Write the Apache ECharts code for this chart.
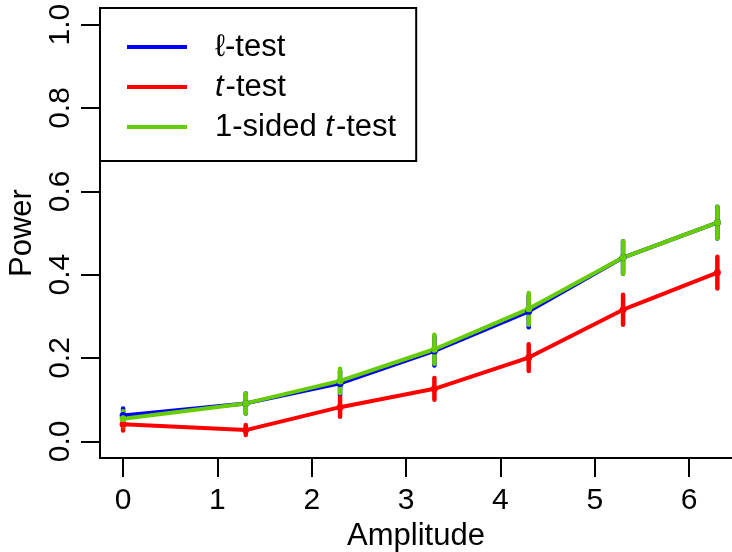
<!DOCTYPE html>
<html>
<head>
<meta charset="utf-8">
<script src="https://cdn.jsdelivr.net/npm/echarts@6/dist/echarts.min.js"></script>
<style>
  html, body { margin: 0; padding: 0; background: #fff; }
  #chart { width: 732px; height: 552px; }
</style>
</head>
<body>
<div id="chart"></div>
<script>
// amplitudes at which power was estimated
const amplitudes = [0, 1.3, 2.3, 3.3, 4.3, 5.3, 6.3];

// ℓ-test
const ellPower = [0.062, 0.091, 0.139, 0.217, 0.312, 0.441, 0.525];
const ellErr   = [0.017, 0.024, 0.029, 0.035, 0.038, 0.039, 0.038];
// t-test
const tPower = [0.041, 0.027, 0.082, 0.126, 0.201, 0.316, 0.405];
const tErr   = [0.015, 0.012, 0.023, 0.026, 0.032, 0.036, 0.038];
// 1-sided t-test
const oneSidedPower = [0.054, 0.091, 0.145, 0.221, 0.318, 0.441, 0.525];
const oneSidedErr   = [0.018, 0.024, 0.029, 0.035, 0.038, 0.039, 0.038];

const xTicks = [0, 1, 2, 3, 4, 5, 6];
const yTicks = [0, 0.2, 0.4, 0.6, 0.8, 1.0];

const names = ['ℓ-test', 't-test', '1-sided t-test'];
const colors = ['#0000ff', '#ff0000', '#66cd00'];

const font = 'Liberation Sans, Arial, sans-serif';

function lineSeries(name, color, vals) {
    return {
        name: name,
        type: 'line',
        data: amplitudes.map((x, i) => [x, vals[i]]),
        symbol: 'circle',
        symbolSize: 7,
        itemStyle: { color: color },
        lineStyle: { color: color, width: 4 },
        z: 3
    };
}

function errSeries(color, vals, errs) {
    return {
        type: 'custom',
        data: amplitudes.map((x, i) => [x, vals[i] - errs[i], vals[i] + errs[i]]),
        encode: { x: 0, y: [1, 2] },
        renderItem(params, api) {
            const lo = api.coord([api.value(0), api.value(1)]);
            const hi = api.coord([api.value(0), api.value(2)]);
            return {
                type: 'line',
                shape: { x1: lo[0], y1: lo[1], x2: hi[0], y2: hi[1] },
                style: { stroke: color, lineWidth: 4.5, lineCap: 'round' }
            };
        },
        z: 3
    };
}

const chart = echarts.init(document.getElementById('chart'));

chart.setOption({
    animation: false,
    grid: { left: 100, top: 8, right: 0, bottom: 94, outerBoundsMode: 'none' },
    xAxis: {
        type: 'value',
        min: -0.245,
        max: 6.455,
        name: 'Amplitude',
        nameLocation: 'middle',
        nameGap: 62,
        nameTextStyle: { color: '#000', fontSize: 31, fontFamily: font },
        axisLine: { show: true, onZero: false, lineStyle: { color: '#000', width: 2 } },
        axisTick: { show: true, length: 19, customValues: xTicks, lineStyle: { color: '#000', width: 2 } },
        axisLabel: {
            customValues: xTicks,
            margin: 28,
            color: '#000',
            fontSize: 30,
            fontFamily: font
        },
        splitLine: { show: false }
    },
    yAxis: {
        type: 'value',
        min: -0.04,
        max: 1.04,
        name: 'Power',
        nameLocation: 'middle',
        nameGap: 62,
        nameTextStyle: { color: '#000', fontSize: 31, fontFamily: font },
        axisLine: { show: true, onZero: false, lineStyle: { color: '#000', width: 2 } },
        axisTick: { show: true, length: 19, customValues: yTicks, lineStyle: { color: '#000', width: 2 } },
        axisLabel: {
            customValues: yTicks,
            rotate: 90,
            margin: 24,
            color: '#000',
            fontSize: 30,
            fontFamily: font,
            formatter: v => v.toFixed(1)
        },
        splitLine: { show: false }
    },
    legend: {
        data: names,
        orient: 'vertical',
        left: 100,
        top: 8,
        padding: [19, 20, 14, 27],
        itemGap: 0,
        itemWidth: 60,
        itemHeight: 4,
        icon: 'rect',
        borderColor: '#000',
        borderWidth: 2,
        backgroundColor: '#fff',
        selectedMode: false,
        formatter: name => name.replace(/(^|\s)t-/, '$1{i|t}-'),
        textStyle: {
            color: '#000',
            fontSize: 31,
            fontFamily: font,
            lineHeight: 40,
            padding: [0, 0, 0, 23],
            rich: {
                i: { fontStyle: 'italic', fontSize: 31, fontFamily: font, color: '#000', lineHeight: 40, padding: [0, 2, 0, 0] }
            }
        }
    },
    series: [
        lineSeries(names[0], colors[0], ellPower),
        errSeries(colors[0], ellPower, ellErr),
        lineSeries(names[1], colors[1], tPower),
        errSeries(colors[1], tPower, tErr),
        lineSeries(names[2], colors[2], oneSidedPower),
        errSeries(colors[2], oneSidedPower, oneSidedErr)
    ]
});
</script>
</body>
</html>
